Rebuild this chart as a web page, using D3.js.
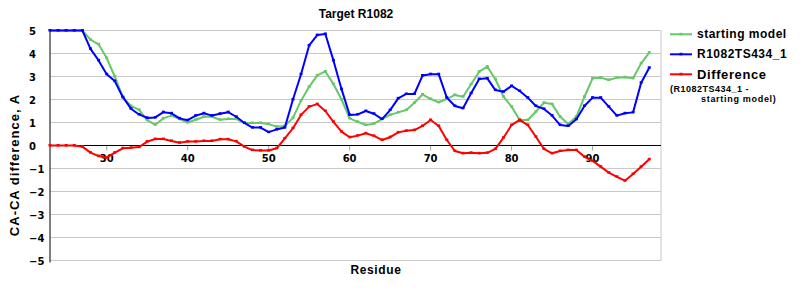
<!DOCTYPE html>
<html>
<head>
<meta charset="utf-8">
<script src="https://cdn.jsdelivr.net/npm/d3@7"></script>
<style>
body{margin:0;background:#fff;}
</style>
</head>
<body>
<script>
var w = 800;
var h = 300;

/**** data ****/
var residues = [23,24,25,26,27,28,29,30,31,32,33,34,35,36,37,38,39,40,41,42,43,44,45,46,47,48,49,50,
  51,52,53,54,55,56,57,58,59,60,61,62,63,64,65,66,67,68,69,70,71,72,73,74,75,76,77,78,79,80,
  81,82,83,84,85,86,87,88,89,90,91,92,93,94,95,96,97];
var startingModel = [5,5,5,5,5,4.6,4.4,3.8,3.0,2.1,1.72,1.55,1.1,0.9,1.18,1.3,1.15,1.0,1.12,1.25,
  1.25,1.12,1.15,1.15,0.98,0.98,0.98,0.93,0.82,0.85,1.2,1.95,2.55,3.05,3.22,2.67,2.0,1.18,1.03,0.89,
  0.95,1.15,1.33,1.44,1.54,1.86,2.22,2.02,1.88,2.02,2.2,2.12,2.66,3.21,3.43,2.88,2.12,1.69,1.11,1.11,
  1.47,1.86,1.8,1.25,0.93,1.25,2.12,2.92,2.95,2.85,2.95,2.97,2.92,3.57,4.04];
var ts434 = [5,5,5,5,5,4.2,3.7,3.1,2.8,2.1,1.6,1.35,1.2,1.22,1.45,1.4,1.18,1.1,1.3,1.4,
  1.3,1.38,1.45,1.25,0.98,0.78,0.78,0.58,0.7,0.78,2.0,3.1,4.35,4.8,4.85,3.7,2.45,1.33,1.35,1.5,
  1.38,1.15,1.54,2.05,2.24,2.24,3.04,3.1,3.1,2.08,1.72,1.62,2.27,2.89,2.92,2.41,2.34,2.59,2.37,2.08,
  1.72,1.59,1.3,0.89,0.85,1.14,1.72,2.08,2.08,1.69,1.3,1.4,1.44,2.73,3.38];
var difference = [0,0,0,0,-0.05,-0.31,-0.46,-0.53,-0.31,-0.12,-0.1,-0.07,0.17,0.28,0.28,0.2,0.12,0.17,0.17,0.2,
  0.2,0.27,0.27,0.18,-0.05,-0.2,-0.22,-0.22,-0.12,0.31,0.75,1.33,1.69,1.8,1.5,1.03,0.6,0.36,0.43,0.53,
  0.42,0.24,0.36,0.57,0.64,0.67,0.85,1.11,0.85,0.24,-0.24,-0.34,-0.32,-0.34,-0.32,-0.15,0.34,0.89,1.11,0.89,
  0.38,-0.15,-0.34,-0.24,-0.2,-0.2,-0.49,-0.67,-0.92,-1.18,-1.36,-1.53,-1.24,-0.92,-0.6];
var xTicks = [30,40,50,60,70,80,90];
var yTicks = [-5,-4,-3,-2,-1,0,1,2,3,4,5];

var series = [
  {name:"starting model", values:startingModel, color:"#66c866"},
  {name:"R1082TS434_1", values:ts434, color:"#0000ff"},
  {name:"Difference", values:difference, color:"#ff0000"}
];

var svg = d3.select("body")
            .append("svg")
            .attr("width",w)
            .attr("height",h);

var x = d3.scaleLinear().domain([23,98.45]).range([50,661]);
var y = d3.scaleLinear().domain([-5,5]).range([260.5,30.5]);

/**** grid lines ****/
svg.selectAll("line.grid")
    .data(yTicks.filter(function(d){return d!==0;}))
    .enter()
    .append("line")
    .attr("class","grid")
    .attr("x1",50).attr("x2",661)
    .attr("y1",function(d){return y(d);})
    .attr("y2",function(d){return y(d);})
    .attr("stroke","#c8c8c8")
    .attr("stroke-width",1);

// right border
svg.append("line")
    .attr("x1",661).attr("x2",661)
    .attr("y1",y(5)).attr("y2",y(-5))
    .attr("stroke","#c8c8c8");

/**** y axis labels ****/
svg.selectAll("text.ylab")
    .data(yTicks)
    .enter()
    .append("text")
    .attr("class","ylab")
    .text(function(d){return d<0 ? "\u2212"+Math.abs(d) : d;})
    .attr("x",29)
    .attr("y",function(d){return y(d)+4;})
    .attr("font-family","DejaVu Sans")
    .attr("font-weight","bold")
    .attr("font-size","10px")
    .attr("fill","#000");

/**** x ticks on the zero line ****/
svg.selectAll("line.xtick")
    .data(xTicks)
    .enter()
    .append("line")
    .attr("class","xtick")
    .attr("x1",function(d){return x(d);})
    .attr("x2",function(d){return x(d);})
    .attr("y1",y(0)).attr("y2",y(0)+5)
    .attr("stroke","#a0a0a0");

svg.selectAll("text.xlab")
    .data(xTicks)
    .enter()
    .append("text")
    .attr("class","xlab")
    .text(function(d){return d;})
    .attr("text-anchor","middle")
    .attr("x",function(d){return x(d);})
    .attr("y",y(0)+16.5)
    .attr("font-family","DejaVu Sans")
    .attr("font-weight","bold")
    .attr("font-size","10px")
    .attr("fill","#000");

// zero line + y axis
svg.append("line")
    .attr("x1",50).attr("x2",661)
    .attr("y1",y(0)).attr("y2",y(0))
    .attr("stroke","#000");
svg.append("line")
    .attr("x1",50).attr("x2",50)
    .attr("y1",y(5)).attr("y2",y(-5)+2)
    .attr("stroke","#000");

/**** series lines ****/
var line = d3.line()
    .x(function(d,i){return x(residues[i]);})
    .y(function(d){return y(d);});

series.forEach(function(s){
  svg.append("path")
      .datum(s.values)
      .attr("d",line)
      .attr("fill","none")
      .attr("stroke",s.color)
      .attr("stroke-width",2)
      .attr("stroke-linejoin","round");
  // tiny dash markers
  svg.selectAll(null)
      .data(s.values)
      .enter()
      .append("rect")
      .attr("x",function(d,i){return x(residues[i])-1.5;})
      .attr("y",function(d){return y(d)-1.5;})
      .attr("width",3)
      .attr("height",2.5)
      .attr("fill",s.color);
});

/**** titles ****/
svg.append("text")
    .text("Target R1082")
    .attr("text-anchor","middle")
    .attr("x",356).attr("y",18)
    .attr("font-family","Liberation Sans")
    .attr("font-weight","bold")
    .attr("font-size","12px");

svg.append("text")
    .text("Residue")
    .attr("text-anchor","middle")
    .attr("x",376).attr("y",274)
    .attr("font-family","Liberation Sans")
    .attr("font-weight","bold")
    .attr("font-size","12px")
    .attr("letter-spacing","0.6px");

svg.append("text")
    .text("CA-CA difference, A")
    .attr("text-anchor","middle")
    .attr("transform","translate(19,165) rotate(-90)")
    .attr("font-family","Liberation Sans")
    .attr("font-weight","bold")
    .attr("font-size","13px")
    .attr("letter-spacing","1px");

/**** legend ****/
var legend = svg.selectAll("g.legend")
    .data(series)
    .enter()
    .append("g")
    .attr("class","legend")
    .attr("transform",function(d,i){return "translate(670,"+(34.3+i*20)+")";});

legend.append("line")
    .attr("x1",0).attr("x2",22)
    .attr("y1",0).attr("y2",0)
    .attr("stroke",function(d){return d.color;})
    .attr("stroke-width",2);
legend.append("rect")
    .attr("x",9.5).attr("y",-1.5)
    .attr("width",3).attr("height",2.5)
    .attr("fill",function(d){return d.color;});
legend.append("text")
    .text(function(d){return d.name;})
    .attr("x",27)
    .attr("y",function(d,i){return i==2 ? 5 : 4;})
    .attr("font-family","Liberation Sans")
    .attr("font-weight","bold")
    .attr("font-size",function(d,i){return i==2 ? "13px" : "12px";})
    .attr("letter-spacing",function(d,i){return i==2 ? "0.6px" : "0.5px";});

svg.append("text")
    .text("(R1082TS434_1 -")
    .attr("x",670).attr("y",92)
    .attr("font-family","Liberation Sans")
    .attr("font-weight","bold")
    .attr("font-size","9px")
    .attr("letter-spacing","0.5px");
svg.append("text")
    .text("starting model)")
    .attr("x",701).attr("y",101.5)
    .attr("font-family","Liberation Sans")
    .attr("font-weight","bold")
    .attr("font-size","9px")
    .attr("letter-spacing","0.7px");
</script>
</body>
</html>
